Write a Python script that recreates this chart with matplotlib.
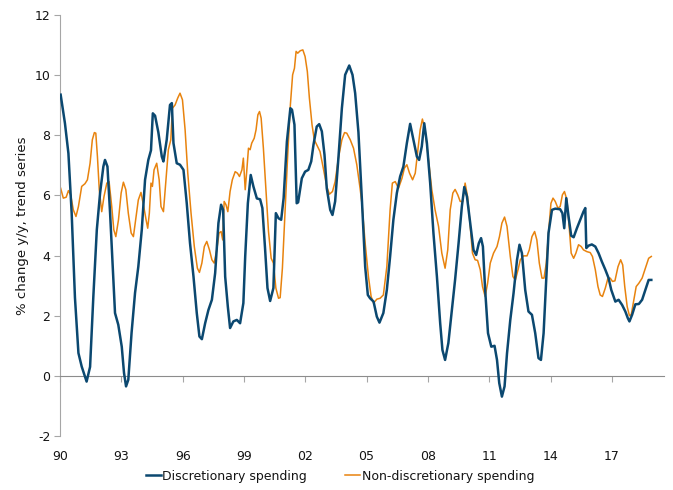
import matplotlib
matplotlib.use("Agg")
import matplotlib.pyplot as plt

# trend series, % change y/y
disc_x = [1990.03, 1990.24, 1990.41, 1990.57, 1990.73, 1990.9, 1991.06, 1991.3, 1991.47, 1991.63,
          1991.8, 1991.96, 1992.12, 1992.2, 1992.32, 1992.45, 1992.61, 1992.69, 1992.85, 1993.02,
          1993.13, 1993.23, 1993.34, 1993.5, 1993.67, 1993.83, 1994.0, 1994.16, 1994.32, 1994.45,
          1994.54, 1994.65, 1994.81, 1994.98, 1995.06, 1995.22, 1995.38, 1995.47, 1995.55, 1995.71,
          1995.87, 1996.04, 1996.2, 1996.36, 1996.53, 1996.69, 1996.82, 1996.94, 1997.1, 1997.26,
          1997.43, 1997.59, 1997.75, 1997.88, 1997.98, 1998.08, 1998.21, 1998.32, 1998.48, 1998.65,
          1998.81, 1998.97, 1999.06, 1999.19, 1999.33, 1999.46, 1999.63, 1999.79, 1999.9, 2000.03,
          2000.15, 2000.28, 2000.44, 2000.56, 2000.69, 2000.82, 2000.94, 2001.1, 2001.27, 2001.35,
          2001.47, 2001.58, 2001.65, 2001.83, 2001.99, 2002.15, 2002.29, 2002.4, 2002.56, 2002.68,
          2002.81, 2002.94, 2003.05, 2003.22, 2003.33, 2003.46, 2003.62, 2003.79, 2003.95, 2004.15,
          2004.31, 2004.44, 2004.6, 2004.77, 2004.93, 2005.06, 2005.17, 2005.34, 2005.5, 2005.63,
          2005.82, 2005.99, 2006.15, 2006.31, 2006.48, 2006.64, 2006.8, 2006.97, 2007.13, 2007.29,
          2007.46, 2007.57, 2007.7, 2007.82, 2007.95, 2008.11, 2008.27, 2008.44, 2008.6, 2008.71,
          2008.84, 2009.0, 2009.17, 2009.33, 2009.5, 2009.66, 2009.78, 2009.91, 2010.07, 2010.23,
          2010.36, 2010.49, 2010.6, 2010.69, 2010.8, 2010.94, 2011.1, 2011.26, 2011.38, 2011.49,
          2011.62, 2011.75, 2011.87, 2012.03, 2012.19, 2012.36, 2012.48, 2012.6, 2012.76, 2012.92,
          2013.09, 2013.25, 2013.41, 2013.53, 2013.66, 2013.77, 2013.9, 2014.07, 2014.23, 2014.47,
          2014.58, 2014.67, 2014.77, 2014.88, 2015.01, 2015.13, 2015.29, 2015.45, 2015.61, 2015.7,
          2015.75, 2015.86, 2016.02, 2016.19, 2016.35, 2016.51, 2016.68, 2016.84, 2016.97, 2017.08,
          2017.17, 2017.33, 2017.5, 2017.66, 2017.78, 2017.86, 2017.99, 2018.15, 2018.32, 2018.48,
          2018.64, 2018.8, 2018.93]
disc_y = [9.35, 8.4, 7.4, 5.4, 2.6, 0.76, 0.31, -0.19, 0.3, 2.64,
          4.86, 6.08, 6.96, 7.18, 6.96, 5.4, 3.19, 2.09, 1.7, 0.97,
          0.1, -0.35, -0.13, 1.43, 2.76, 3.63, 4.86, 6.52, 7.18, 7.5,
          8.73, 8.65, 8.1, 7.29, 7.13, 7.85, 9.01, 9.07, 7.74, 7.07,
          7.02, 6.85, 5.74, 4.41, 3.3, 2.09, 1.31, 1.22, 1.75, 2.19,
          2.53, 3.42, 5.08, 5.69, 5.52, 3.3, 2.3, 1.59, 1.81, 1.86,
          1.75, 2.42, 3.97, 5.74, 6.68, 6.3, 5.9, 5.87, 5.58, 4.25,
          2.92, 2.49, 2.92, 5.41, 5.24, 5.19, 5.91, 7.79, 8.9, 8.85,
          8.35, 5.74, 5.77, 6.57, 6.79, 6.85, 7.13, 7.68, 8.29, 8.37,
          8.13, 7.35, 6.24, 5.52, 5.35, 5.8, 7.24, 8.9, 10.01, 10.32,
          10.01, 9.4, 8.1, 5.85, 3.63, 2.69, 2.58, 2.47, 1.97, 1.77,
          2.09, 2.86, 3.97, 5.19, 6.08, 6.63, 6.96, 7.74, 8.38, 7.85,
          7.29, 7.18, 7.63, 8.4, 7.74, 6.41, 4.75, 3.3, 1.75, 0.86,
          0.53, 1.09, 2.19, 3.2, 4.41, 5.63, 6.28, 5.96, 5.08, 4.19,
          4.02, 4.41, 4.58, 4.3, 2.86, 1.42, 0.97, 1.0, 0.53, -0.24,
          -0.69, -0.35, 0.75, 1.86, 2.75, 3.86, 4.36, 4.08, 2.86, 2.14,
          2.03, 1.42, 0.59, 0.53, 1.42, 2.97, 4.75, 5.52, 5.56, 5.54,
          5.41, 4.91, 5.91, 5.3, 4.66, 4.61, 4.91, 5.19, 5.46, 5.58,
          4.25, 4.33, 4.37, 4.3, 4.08, 3.8, 3.53, 3.25, 2.86, 2.64,
          2.47, 2.53, 2.36, 2.14, 1.92, 1.81, 2.03, 2.38, 2.39, 2.53,
          2.86, 3.19, 3.19]

nondisc_x = [1990.03, 1990.16, 1990.3, 1990.41, 1990.52, 1990.65, 1990.78, 1990.9, 1991.06, 1991.22,
             1991.34, 1991.47, 1991.58, 1991.68, 1991.75, 1991.83, 1991.92, 1992.04, 1992.15, 1992.29,
             1992.4, 1992.53, 1992.63, 1992.73, 1992.86, 1992.99, 1993.1, 1993.22, 1993.34, 1993.48,
             1993.59, 1993.72, 1993.83, 1993.96, 1994.08, 1994.21, 1994.29, 1994.37, 1994.45, 1994.52,
             1994.6, 1994.73, 1994.85, 1994.94, 1995.06, 1995.17, 1995.3, 1995.42, 1995.5, 1995.63,
             1995.76, 1995.87, 1995.99, 1996.12, 1996.25, 1996.41, 1996.57, 1996.72, 1996.82, 1996.94,
             1997.06, 1997.18, 1997.31, 1997.43, 1997.54, 1997.67, 1997.78, 1997.88, 1997.96, 1998.03,
             1998.12, 1998.21, 1998.32, 1998.43, 1998.57, 1998.68, 1998.78, 1998.9, 1998.97, 1999.06,
             1999.14, 1999.22, 1999.3, 1999.38, 1999.5, 1999.59, 1999.68, 1999.76, 1999.84, 1999.95,
             2000.07, 2000.2, 2000.33, 2000.44, 2000.56, 2000.69, 2000.77, 2000.88, 2001.01, 2001.14,
             2001.27, 2001.38, 2001.47, 2001.55, 2001.63, 2001.75, 2001.88, 2001.99, 2002.1, 2002.2,
             2002.33, 2002.44, 2002.56, 2002.72, 2002.88, 2003.05, 2003.18, 2003.33, 2003.46, 2003.62,
             2003.79, 2003.92, 2004.03, 2004.2, 2004.36, 2004.52, 2004.68, 2004.77, 2004.93, 2005.09,
             2005.22, 2005.34, 2005.5, 2005.66, 2005.82, 2005.99, 2006.15, 2006.26, 2006.4, 2006.56,
             2006.73, 2006.85, 2006.97, 2007.1, 2007.25, 2007.38, 2007.51, 2007.62, 2007.73, 2007.87,
             2008.03, 2008.19, 2008.35, 2008.52, 2008.68, 2008.84, 2008.97, 2009.09, 2009.22, 2009.33,
             2009.46, 2009.58, 2009.7, 2009.82, 2009.94, 2010.07, 2010.18, 2010.31, 2010.43, 2010.56,
             2010.67, 2010.8, 2010.92, 2011.05, 2011.21, 2011.38, 2011.5, 2011.62, 2011.75, 2011.87,
             2012.03, 2012.16, 2012.28, 2012.41, 2012.52, 2012.68, 2012.85, 2012.96, 2013.09, 2013.22,
             2013.33, 2013.45, 2013.58, 2013.68, 2013.79, 2013.9, 2014.02, 2014.12, 2014.23, 2014.36,
             2014.47, 2014.58, 2014.68, 2014.8, 2014.91, 2015.01, 2015.13, 2015.24, 2015.37, 2015.5,
             2015.61, 2015.78, 2015.94, 2016.05, 2016.19, 2016.32, 2016.43, 2016.54, 2016.68, 2016.81,
             2016.92, 2017.03, 2017.15, 2017.3, 2017.43, 2017.53, 2017.63, 2017.75, 2017.86, 2017.95,
             2018.06, 2018.19, 2018.32, 2018.48, 2018.64, 2018.8, 2018.93]
nondisc_y = [6.24, 5.91, 5.94, 6.16, 6.02, 5.52, 5.3, 5.63, 6.3, 6.39,
             6.52, 7.07, 7.85, 8.09, 8.07, 7.29, 6.19, 5.46, 5.96, 6.41,
             6.46, 5.63, 4.86, 4.63, 5.19, 6.08, 6.44, 6.19, 5.41, 4.75,
             4.63, 5.3, 5.85, 6.1, 5.69, 5.19, 4.91, 5.41, 6.41, 6.3,
             6.85, 7.07, 6.52, 5.63, 5.46, 6.41, 7.52, 7.85, 8.9, 9.01,
             9.24, 9.4, 9.18, 8.18, 6.74, 5.41, 4.3, 3.58, 3.44, 3.75,
             4.3, 4.47, 4.19, 3.86, 3.75, 4.19, 4.75, 4.8, 4.52, 5.8,
             5.69, 5.46, 6.13, 6.52, 6.79, 6.74, 6.63, 6.85, 7.24, 6.19,
             6.85, 7.57, 7.52, 7.74, 7.9, 8.18, 8.68, 8.79, 8.57, 7.57,
             6.24, 4.8, 3.91, 3.75, 2.92, 2.58, 2.6, 3.58, 5.46, 7.35,
             9.01, 10.01, 10.23, 10.79, 10.73, 10.81, 10.84, 10.62, 10.12, 9.24,
             8.35, 7.85, 7.68, 7.46, 6.91, 6.3, 6.04, 6.13, 6.46, 7.24,
             7.85, 8.09, 8.07, 7.85, 7.57, 7.02, 6.24, 5.74, 4.41, 3.3,
             2.64, 2.42, 2.55, 2.58, 2.69, 3.63, 5.52, 6.41, 6.46, 6.24,
             6.57, 6.91, 7.02, 6.74, 6.52, 6.74, 7.52, 8.18, 8.54, 8.13,
             7.18, 6.19, 5.52, 4.97, 4.08, 3.58, 4.19, 5.52, 6.08, 6.2,
             6.02, 5.8, 5.8, 6.41, 5.96, 4.97, 4.08, 3.86, 3.84, 3.53,
             2.97, 2.64, 3.08, 3.75, 4.08, 4.3, 4.63, 5.08, 5.28, 4.97,
             3.97, 3.3, 3.19, 3.53, 3.86, 3.99, 3.99, 4.19, 4.63, 4.8,
             4.52, 3.75, 3.25, 3.25, 3.75, 4.75, 5.74, 5.91, 5.8, 5.58,
             5.63, 6.02, 6.13, 5.85, 4.97, 4.08, 3.91, 4.08, 4.36, 4.3,
             4.19, 4.13, 4.1, 3.97, 3.53, 2.97, 2.69, 2.64, 2.92, 3.25,
             3.25, 3.14, 3.16, 3.63, 3.86, 3.69, 2.97, 2.3, 2.0, 2.04,
             2.47, 2.97, 3.08, 3.25, 3.58, 3.91, 3.97]

year_ticks = [1990, 1993, 1996, 1999, 2002, 2005, 2008, 2011, 2014, 2017]
year_labels = ["90", "93", "96", "99", "02", "05", "08", "11", "14", "17"]
y_ticks = [-2, 0, 2, 4, 6, 8, 10, 12]

blue = "#0b4870"
orange = "#e8830e"
grey = "#a6a6a6"
txt = "#141414"

plt.rcParams["font.family"] = "DejaVu Sans"
plt.rcParams["font.size"] = 9
plt.rcParams["axes.unicode_minus"] = False

fig = plt.figure(figsize=(6.73, 4.9), dpi=100)
ax = fig.add_axes([0.0892, 0.1102, 0.8974, 0.8592])

ax.plot(disc_x, disc_y, color=blue, lw=1.8, label="Discretionary spending", zorder=3)
ax.plot(nondisc_x, nondisc_y, color=orange, lw=1.1, label="Non-discretionary spending", zorder=2)

ax.set_xlim(1990, 2019.55)
ax.set_ylim(-2, 12)
ax.set_yticks(y_ticks)

for s in ["top", "right"]:
    ax.spines[s].set_visible(False)
ax.spines["left"].set_color(grey)
ax.spines["bottom"].set_position(("data", 0))
ax.spines["bottom"].set_color("#8c8c8c")

ax.set_xticks(year_ticks)
ax.tick_params(axis="x", direction="out", length=4, color=grey, labelbottom=False)
ax.tick_params(axis="y", direction="out", length=4, color=grey, labelcolor=txt, pad=3)

# year labels sit under the plot area, not on the zero line
sec = ax.secondary_xaxis("bottom")
sec.set_xticks(year_ticks, year_labels)
sec.tick_params(length=0, pad=10, labelcolor=txt)
sec.spines["bottom"].set_visible(False)

ax.set_ylabel("% change y/y, trend series", color=txt, fontsize=9.5, labelpad=4)

fig.legend(loc="lower center", bbox_to_anchor=(0.505, -0.008), ncol=2, frameon=False,
           handlelength=1.2, handletextpad=0.15, columnspacing=3.0, labelcolor=txt)

fig.savefig("out.png", dpi=100)
